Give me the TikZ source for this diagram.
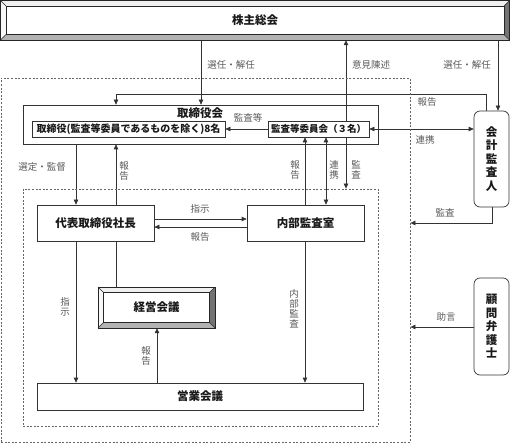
\documentclass[tikz,border=0pt]{standalone}
\usepackage{fontspec}
\setmainfont{Noto Sans CJK JP}
\usetikzlibrary{arrows.meta}
\pgfdeclarelayer{bg}
\pgfsetlayers{bg,main}
\newcommand\bevelbox[5]{%
  \fill[black!6] (#1,#2) -- (#3,#2) -- ({#3-#5},{#2+#5}) -- ({#1+#5},{#2+#5}) -- cycle;
  \fill[black!3] (#1,#2) -- ({#1+#5},{#2+#5}) -- ({#1+#5},{#4-#5}) -- (#1,#4) -- cycle;
  \fill[black!55] (#3,#2) -- (#3,#4) -- ({#3-#5},{#4-#5}) -- ({#3-#5},{#2+#5}) -- cycle;
  \fill[black!30] (#1,#4) -- (#3,#4) -- ({#3-#5},{#4-#5}) -- ({#1+#5},{#4-#5}) -- cycle;
  \draw[black!85,line width=0.7pt] (#1,#2) rectangle (#3,#4);
  \draw[black!85,line width=0.7pt] ({#1+#5},{#2+#5}) rectangle ({#3-#5},{#4-#5});
  \draw[black!85,line width=0.5pt] (#1,#2) -- ({#1+#5},{#2+#5}) (#3,#2) -- ({#3-#5},{#2+#5})
     (#1,#4) -- ({#1+#5},{#4-#5}) (#3,#4) -- ({#3-#5},{#4-#5});
}
\begin{document}
\begin{tikzpicture}[x=1pt,y=-1pt,
  box/.style={draw=black!80, line width=0.7pt, fill=white, inner sep=0pt},
  rbox/.style={box, rounded corners=6pt},
  ttl/.style={font=\bfseries\fontsize{11.5}{13}\selectfont, text=black!90},
  vttl/.style={ttl, align=center, font=\bfseries\fontsize{11.5}{13.5}\selectfont},
  small/.style={font=\bfseries\fontsize{10}{12}\selectfont, text=black!90},
  lbl/.style={text=black!65, font=\fontsize{9.5}{10}\selectfont, inner sep=0pt},
  vlbl/.style={lbl, align=center},
  conn/.style={draw=black!80, line width=0.7pt},
  arr/.style={conn, -{Triangle[length=5pt,width=4.5pt]}},
  darr/.style={conn, {Triangle[length=5pt,width=4.5pt]}-{Triangle[length=5pt,width=4.5pt]}},
  dashbox/.style={draw=black!60, line width=0.8pt, dash pattern=on 2pt off 1.6pt, inner sep=0pt}
]
\useasboundingbox (0,0) rectangle (510,443);

% helper coordinates
\coordinate (c76) at (76,0);
\coordinate (c116) at (116,0);
\coordinate (c157) at (157,0);
\coordinate (c201) at (201,0);
\coordinate (c305) at (305,0);
\coordinate (c326) at (326,0);
\coordinate (c346) at (346,0);
\coordinate (c486) at (486,0);
\coordinate (c492) at (492,0);
\coordinate (c498) at (498,0);
\coordinate (r94) at (0,94);
\coordinate (r219) at (0,219);
\coordinate (r223) at (0,223);
\coordinate (r227) at (0,227);
\coordinate (r327) at (0,327);

% dashed groups
\node[dashbox, minimum width=409pt, minimum height=364pt] (outerdash) at (205.5,260) {};
\node[dashbox, minimum width=355pt, minimum height=237pt] (innerdash) at (200.5,307.5) {};

% top box
\bevelbox{0.5}{0.5}{509.5}{40}{5.5}
\node[ttl, minimum width=510pt, minimum height=40pt, inner sep=0pt] (soukai) at (255,20) {株主総会};

% board
\node[draw=black!80, line width=0.7pt, minimum width=355pt, minimum height=39pt, inner sep=0pt] (board) at (200.5,124.5) {};
\node[ttl] (boardt) at (200,113) {取締役会};
\node[box, small, minimum width=193pt, minimum height=16pt] (directors) at (128.5,129) {取締役(監査等委員であるものを除く)8名};
\node[box, small, minimum width=101pt, minimum height=16pt, font=\bfseries\fontsize{9.5}{11}\selectfont] (committee) at (318.5,129) {監査等委員会（３名）};

% executive
\node[box, ttl, minimum width=117pt, minimum height=36pt] (daihyo) at (95.5,223) {代表取締役社長};
\node[box, ttl, minimum width=117pt, minimum height=36pt] (naibu) at (305.5,223) {内部監査室};
\bevelbox{98}{287}{215}{328}{5.5}
\node[ttl, minimum width=117pt, minimum height=41pt, inner sep=0pt] (keiei) at (156.5,307.5) {経営会議};
\node[box, ttl, minimum width=326pt, minimum height=27pt] (eigyo) at (200,396.5) {営業会議};

% right side
\node[rbox, vttl, minimum width=35pt, minimum height=96pt] (kaikei) at (491.5,159) {会\\計\\監\\査\\人};
\node[rbox, vttl, minimum width=35pt, minimum height=97pt] (komon) at (491.5,326.5) {顧\\問\\弁\\護\\士};

% connectors
\begin{pgfonlayer}{bg}
\draw[arr] (soukai.south -| c201) -- (board.north -| c201);
\draw[darr] (soukai.south -| c346) -- (innerdash.north -| c346);
\draw[arr] (soukai.south -| c498) -- (kaikei.north -| c498);
\draw[arr] (kaikei.north -| c486) -- (c486 |- r94) -| (board.north -| c116);
\draw[darr] (committee.east) -- (kaikei.west |- committee.east);
\draw[arr] (kaikei.south -| c492) |- (outerdash.east |- r223);
\draw[arr] (komon.west |- r327) -- (outerdash.east |- r327);
\draw[arr] (committee.west) -- (directors.east |- committee.west);
\draw[arr] (board.south -| c76) -- (daihyo.north -| c76);
\draw[arr] (daihyo.north -| c116) -- (board.south -| c116);
\draw[arr] (naibu.north -| c305) -- (committee.south -| c305);
\draw[darr] (committee.south -| c326) -- (naibu.north -| c326);
\draw[arr] (daihyo.east |- r219) -- (naibu.west |- r219);
\draw[arr] (naibu.west |- r227) -- (daihyo.east |- r227);
\draw[conn] (daihyo.south -| c116) -- (keiei.north -| c116);
\draw[arr] (daihyo.south -| c76) -- (eigyo.north -| c76);
\draw[arr] (eigyo.north -| c157) -- (keiei.south -| c157);
\draw[arr] (naibu.south -| c305) -- (eigyo.north -| c305);
\end{pgfonlayer}

% labels
\node[lbl] (l1) at (231,65) {選任・解任};
\node[lbl] (l2) at (371,65) {意見陳述};
\node[lbl] (l3) at (467,65) {選任・解任};
\node[lbl] (l4) at (427,102) {報告};
\node[lbl] (l5) at (248,118) {監査等};
\node[lbl] (l6) at (425,140) {連携};
\node[lbl] (l7) at (445,213) {監査};
\node[lbl] (l8) at (446,317) {助言};
\node[lbl] (l9) at (42,167) {選定・監督};
\node[vlbl] (l10) at (124,171) {報\\告};
\node[vlbl] (l11) at (295,170) {報\\告};
\node[vlbl] (l12) at (334,170) {連\\携};
\node[vlbl] (l13) at (356,170) {監\\査};
\node[lbl] (l14) at (200,209) {指示};
\node[lbl] (l15) at (200,237) {報告};
\node[vlbl] (l16) at (65,307) {指\\示};
\node[vlbl] (l17) at (146,356) {報\\告};
\node[vlbl] (l18) at (294,309) {内\\部\\監\\査};
\end{tikzpicture}
\end{document}
